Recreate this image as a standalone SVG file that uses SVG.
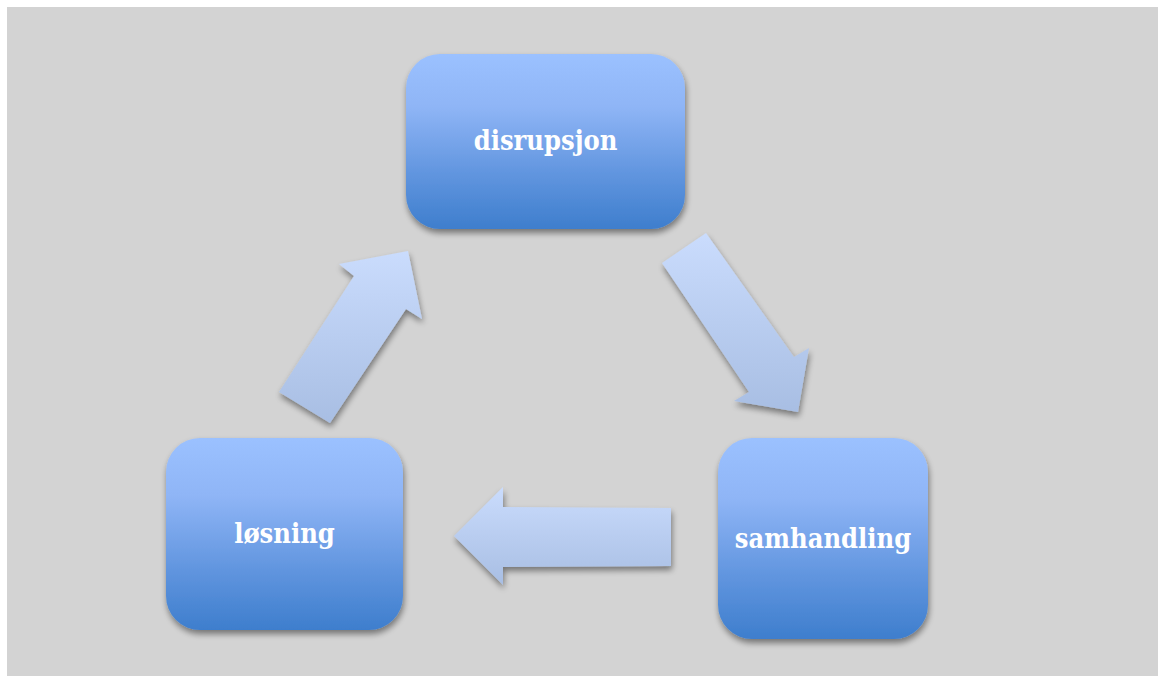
<svg xmlns="http://www.w3.org/2000/svg" width="1158" height="677" viewBox="0 0 1158 677">
<defs>
<linearGradient id="boxGrad" x1="0" y1="0" x2="0" y2="1">
<stop offset="0" stop-color="#9bc1ff"/>
<stop offset="0.3" stop-color="#8fb5f6"/>
<stop offset="0.7" stop-color="#5f94de"/>
<stop offset="1" stop-color="#3e7ecd"/>
</linearGradient>
<linearGradient id="arrowGrad" x1="0" y1="0" x2="0" y2="1">
<stop offset="0" stop-color="#cadcfd"/>
<stop offset="1" stop-color="#a8bee3"/>
</linearGradient>
<filter id="shadow" x="-20%" y="-20%" width="140%" height="140%">
<feGaussianBlur in="SourceAlpha" stdDeviation="3"/>
<feOffset dx="1" dy="4" result="b"/>
<feComponentTransfer><feFuncA type="linear" slope="0.45"/></feComponentTransfer>
<feMerge><feMergeNode/><feMergeNode in="SourceGraphic"/></feMerge>
</filter>
</defs>
<style>
.box{fill:url(#boxGrad);filter:url(#shadow)}
.arrow{fill:url(#arrowGrad);filter:url(#shadow)}
.lbl{font-family:"DejaVu Serif Condensed","DejaVu Serif",serif;font-stretch:condensed;font-weight:bold;fill:#ffffff;text-anchor:middle}
</style>
<rect x="7" y="7" width="1151" height="669" fill="#d3d3d3"/>
<g id="connectors">
<polygon class="arrow" points="279,392 354,276 339,264 408,251 422,319 406,309 330,423"/>
<polygon class="arrow" points="662,263 706,233 794,357 809,348 798,412 734,401 749,392"/>
<polygon class="arrow" points="454,536 503,487 503,507 671,508 671,566 503,567 503,585"/>
</g>
<g id="node-disrupsjon">
<rect class="box" x="406" y="54" width="279" height="175" rx="34"/>
<text class="lbl" x="545.5" y="150" font-size="27">disrupsjon</text>
</g>
<g id="node-samhandling">
<rect class="box" x="718" y="438" width="210" height="201" rx="34"/>
<text class="lbl" x="823" y="548" font-size="27">samhandling</text>
</g>
<g id="node-losning">
<rect class="box" x="166" y="438" width="237" height="192" rx="34"/>
<text class="lbl" x="284.5" y="543" font-size="27">løsning</text>
</g>
</svg>
